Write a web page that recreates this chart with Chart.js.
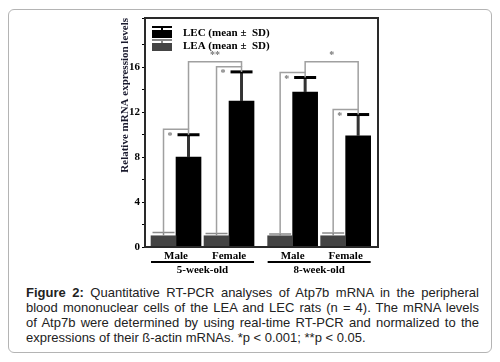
<!DOCTYPE html>
<html>
<head>
<meta charset="utf-8">
<script src="https://cdn.jsdelivr.net/npm/chart.js@4"></script>
<style>
  html, body { margin: 0; padding: 0; background: #fff; }
  body { width: 500px; height: 362px; position: relative; overflow: hidden; }
  #box { position: absolute; left: 8px; top: 9px; width: 484px; height: 344px;
         border: 1px solid #b4b4b4; border-radius: 6px; box-sizing: border-box; }
  #wrap { position: absolute; left: 0; top: 0; width: 500px; height: 282px; }
  #caption { position: absolute; left: 26px; top: 285px; width: 453px;
             font: 13px "Liberation Sans", Arial, sans-serif; line-height: 15px;
             color: #222; }
  #caption div { text-align: justify; text-align-last: justify; white-space: nowrap; }
  #caption div.last { text-align-last: left; }
</style>
</head>
<body>
<div id="box"></div>
<div id="wrap"><canvas id="c"></canvas></div>
<div id="caption">
  <div><b>Figure 2:</b> Quantitative RT-PCR analyses of Atp7b mRNA in the peripheral</div>
  <div>blood mononuclear cells of the LEA and LEC rats (n = 4). The mRNA levels</div>
  <div>of Atp7b were determined by using real-time RT-PCR and normalized to the</div>
  <div class="last">expressions of their ß-actin mRNAs. *p &lt; 0.001; **p &lt; 0.05.</div>
</div>
<script>
// ===== Data =====
const sexLabels = ["Male", "Female", "Male", "Female"];
const xPos = [0, 1, 2.2, 3.2];               // pair positions (gap between age groups)
const ageGroups = ["5-week-old", "8-week-old"];
const leaMean = [1.0, 1.0, 1.0, 1.0];
const leaSD = [0.3, 0.2, 0.15, 0.25];
const lecMean = [8.0, 13.0, 13.8, 9.9];
const lecSD = [2.0, 2.6, 1.3, 1.9];
// significance brackets
const pairBracketTop = [10.5, 16.05, 15.55, 12.25];   // LEA vs LEC inside each pair
const pairStars = ["*", "*", "*", "*"];
const sexBracketTop = [16.5, 16.5];                   // male vs female LEC, per age
const sexStars = ["**", "*"];

const SERIF = '"Liberation Serif", "Times New Roman", serif';
const BAR_W = 25;

// ===== Plugin: frame, error bars, brackets, legend, group labels =====
const extras = {
  id: "extras",
  afterDatasetsDraw(chart) {
    const ctx = chart.ctx;
    const y = chart.scales.y;
    const ca = chart.chartArea;
    const leaBars = chart.getDatasetMeta(0).data;
    const lecBars = chart.getDatasetMeta(1).data;
    ctx.save();

    // error bars
    leaBars.forEach((b, i) => {
      const yt = y.getPixelForValue(leaMean[i] + leaSD[i]);
      ctx.strokeStyle = "#8a8a8a"; ctx.lineWidth = 1.5;
      ctx.beginPath();
      ctx.moveTo(b.x, b.y); ctx.lineTo(b.x, yt);
      ctx.moveTo(b.x - 11, yt); ctx.lineTo(b.x + 11, yt);
      ctx.stroke();
    });
    lecBars.forEach((b, i) => {
      const yt = y.getPixelForValue(lecMean[i] + lecSD[i]);
      ctx.strokeStyle = "#333"; ctx.lineWidth = 3;
      ctx.beginPath(); ctx.moveTo(b.x, b.y); ctx.lineTo(b.x, yt); ctx.stroke();
      ctx.strokeStyle = "#000";
      ctx.beginPath(); ctx.moveTo(b.x - 11, yt); ctx.lineTo(b.x + 11, yt); ctx.stroke();
    });

    // brackets
    ctx.strokeStyle = "#a0a0a0"; ctx.lineWidth = 1.5;
    ctx.fillStyle = "#777";
    ctx.font = "bold 10px " + SERIF;
    leaBars.forEach((b, i) => {
      const c = lecBars[i];
      const y0 = y.getPixelForValue(leaMean[i] + leaSD[i]);
      const y1 = y.getPixelForValue(pairBracketTop[i]);
      const y2 = y.getPixelForValue(lecMean[i] + lecSD[i]);
      ctx.beginPath();
      ctx.moveTo(b.x, y0); ctx.lineTo(b.x, y1); ctx.lineTo(c.x, y1); ctx.lineTo(c.x, y2);
      ctx.stroke();
      ctx.textAlign = "left"; ctx.textBaseline = "top";
      ctx.fillText(pairStars[i], b.x + 4, y1 + 2);
    });
    [0, 2].forEach((m, g) => {
      const a = lecBars[m], f = lecBars[m + 1];
      const y0 = y.getPixelForValue(pairBracketTop[m]);
      const y1 = y.getPixelForValue(sexBracketTop[g]);
      const y2 = y.getPixelForValue(pairBracketTop[m + 1]);
      ctx.beginPath();
      ctx.moveTo(a.x, y0); ctx.lineTo(a.x, y1); ctx.lineTo(f.x, y1); ctx.lineTo(f.x, y2);
      ctx.stroke();
      ctx.textAlign = "center"; ctx.textBaseline = "bottom";
      ctx.fillText(sexStars[g], (a.x + f.x) / 2, y1 - 1);
    });

    // frame
    ctx.strokeStyle = "#2a2a2a"; ctx.lineWidth = 2;
    ctx.strokeRect(ca.left, ca.top, ca.right - ca.left, ca.bottom - ca.top);

    // legend
    const lx = ca.left + 7;
    const items = [
      { label: "LEC (mean \u00b1  SD)", fill: "#000", cap: "#000", top: ca.top + 12 },
      { label: "LEA (mean \u00b1  SD)", fill: "#444", cap: "#888", top: ca.top + 25 }
    ];
    items.forEach(it => {
      ctx.fillStyle = it.fill;
      ctx.fillRect(lx, it.top, 20, 8);
      ctx.strokeStyle = it.cap; ctx.lineWidth = 2;
      ctx.beginPath();
      ctx.moveTo(lx, it.top - 3); ctx.lineTo(lx + 20, it.top - 3);
      ctx.moveTo(lx + 10, it.top - 3); ctx.lineTo(lx + 10, it.top);
      ctx.stroke();
      ctx.fillStyle = "#000";
      ctx.font = "bold 11px " + SERIF;
      ctx.textAlign = "left"; ctx.textBaseline = "middle";
      ctx.fillText(it.label, lx + 31, it.top + 3);
    });

    // age group labels under the x axis
    ctx.strokeStyle = "#000"; ctx.lineWidth = 2;
    ctx.fillStyle = "#000";
    ctx.font = "bold 11px " + SERIF;
    ctx.textAlign = "center"; ctx.textBaseline = "middle";
    ageGroups.forEach((g, k) => {
      const l = leaBars[k * 2].x - BAR_W / 2;
      const r = lecBars[k * 2 + 1].x + BAR_W / 2;
      const yl = ca.bottom + 15;
      ctx.beginPath(); ctx.moveTo(l, yl); ctx.lineTo(r, yl); ctx.stroke();
      ctx.fillText(g, (l + r) / 2, yl + 8);
    });
    ctx.restore();
  }
};

// ===== Chart =====
new Chart(document.getElementById("c").getContext("2d"), {
  type: "bar",
  data: {
    datasets: [
      { label: "LEA", data: xPos.map((v, i) => ({ x: v, y: leaMean[i] })),
        backgroundColor: "#444444", barThickness: BAR_W },
      { label: "LEC", data: xPos.map((v, i) => ({ x: v, y: lecMean[i] })),
        backgroundColor: "#000000", barThickness: BAR_W }
    ]
  },
  options: {
    responsive: true,
    maintainAspectRatio: false,
    animation: false,
    layout: { padding: { left: 119, right: 122, top: 18, bottom: 0 } },
    scales: {
      x: {
        type: "linear", offset: false, min: -0.585, max: 3.81,
        afterBuildTicks: s => { s.ticks = xPos.map(v => ({ value: v })); },
        afterFit: s => { s.height = 35; },
        grid: { display: false, drawTicks: false },
        border: { display: false },
        ticks: {
          padding: 3, color: "#000",
          font: { family: SERIF, size: 11, weight: "bold" },
          callback: (v, i) => sexLabels[i]
        }
      },
      y: {
        min: 0, max: 20.4,
        afterFit: s => { s.width = 26; },
        grid: { drawOnChartArea: false, tickLength: 3, color: "#000" },
        border: { display: false },
        title: { display: true, text: "Relative mRNA expression levels", color: "#1a1a2e",
                 align: "end", padding: 0, font: { family: SERIF, size: 11, weight: "bold" } },
        ticks: {
          stepSize: 2, padding: 2, color: "#000",
          font: { family: SERIF, size: 11, weight: "bold" },
          callback: v => (v % 4 === 0 && v <= 16 ? v : "")
        }
      }
    },
    plugins: { legend: { display: false }, tooltip: { enabled: false } }
  },
  plugins: [extras]
});
</script>
</body>
</html>
